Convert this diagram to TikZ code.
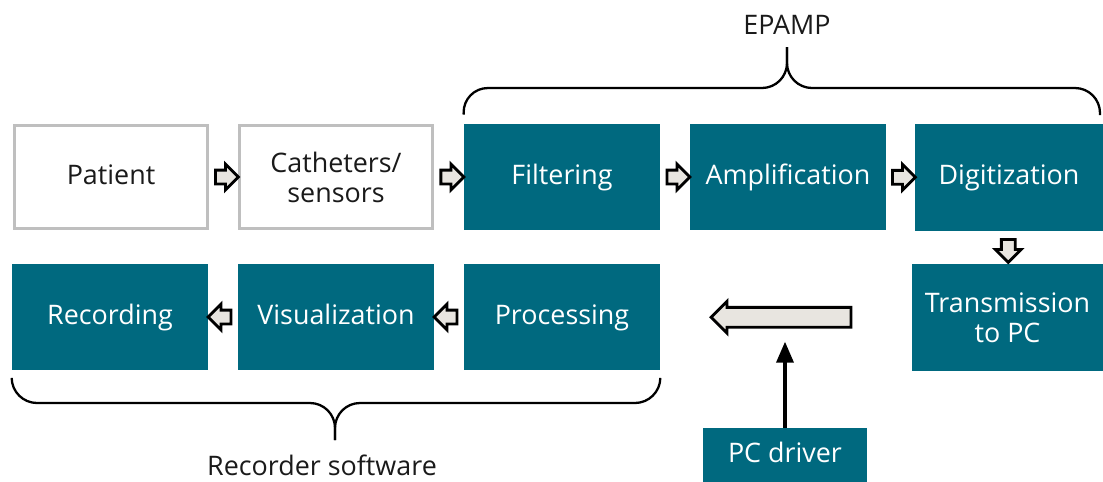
\documentclass[tikz,border=0pt]{standalone}
\usepackage{fontspec}
\setmainfont{Open Sans}
\usepackage{tikz}
\usetikzlibrary{positioning, arrows.meta, shapes.arrows, calc}

\definecolor{epteal}{HTML}{00697F}
\definecolor{boxgray}{HTML}{BFBFBF}
\definecolor{arrowfill}{HTML}{E8E5E0}
\definecolor{labeltext}{HTML}{1A1A1A}

\tikzset{
  stagebox/.style={rectangle, inner sep=0pt, minimum width=3.92cm, minimum height=2.12cm,
    align=center, font=\fontsize{15.3}{17}\selectfont},
  onelinetext/.style={text height=2.1ex, text depth=0.6ex},
  tealtwo/.style={stagebox, fill=epteal, text=white},
  tealbox/.style={tealtwo, onelinetext},
  graybox/.style={stagebox, draw=boxgray, line width=1.9pt, fill=white, text=labeltext,
    minimum width=3.86cm, minimum height=2.06cm},
  flowarrow/.style={single arrow, draw=black, fill=arrowfill, line width=1.6pt,
    inner sep=0.11cm, single arrow head extend=0.12cm, minimum height=0.46cm},
  bigflowarrow/.style={flowarrow, inner sep=0.17cm, single arrow head extend=0.12cm,
    minimum height=2.8cm},
  bracepath/.style={line width=1.3pt, rounded corners=0.5cm},
  bracelabel/.style={text=labeltext, font=\fontsize{15.3}{17}\selectfont}
}

\begin{document}
\begin{tikzpicture}[x=0.02cm, y=-0.02cm]
\useasboundingbox (0,0) rectangle (1103,481);

% --- top row ---
\node[graybox, onelinetext] (patient) at (111,177) {Patient};
\node[graybox] (catheters) at (336,177) {Catheters/\\sensors};
\node[tealbox] (filtering) at (562,177) {Filtering};
\node[tealbox] (amplification) at (788,177) {Amplification};
\node[tealbox, minimum width=3.76cm, minimum height=2.14cm] (digitization) at (1009,177.5) {Digitization};

% --- bottom row ---
\node[tealtwo, minimum width=3.82cm, minimum height=2.14cm] (transmission) at (1007.5,317.5) {Transmission\\to PC};
\node[tealbox] (processing) at (562,317) {Processing};
\node[tealbox] (visualization) at (336,317) {Visualization};
\node[tealbox] (recording) at (110,317) {Recording};
\node[tealbox, minimum width=3.28cm, minimum height=1.08cm] (driver) at (785,455) {PC driver};

% --- block arrows ---
\node[flowarrow] (arrpc) at ($(patient.east)!0.5!(catheters.west)$) {};
\node[flowarrow] (arrcf) at ($(catheters.east)!0.5!(filtering.west)$) {};
\node[flowarrow] (arrfa) at ($(filtering.east)!0.5!(amplification.west)$) {};
\node[flowarrow] (arrad) at ($(amplification.east)!0.5!(digitization.west)$) {};
\node[flowarrow, shape border rotate=270] (arrdt) at ($(digitization.south)!0.5!(transmission.north)$) {};
\node[bigflowarrow, shape border rotate=180] (arrtp) at ($(transmission.west)!0.5!(processing.east)$) {};
\node[flowarrow, shape border rotate=180] (arrpv) at ($(processing.west)!0.5!(visualization.east)$) {};
\node[flowarrow, shape border rotate=180] (arrvr) at ($(visualization.west)!0.5!(recording.east)$) {};

% --- driver feeds the transfer ---
\coordinate (drvend) at ($(driver.north)+(0,-86)$);
\draw[line width=2pt, -{Triangle[length=0.42cm,width=0.34cm]}] (driver.north) -- (drvend);

% --- braces ---
\coordinate (eptip) at (787,47);
\draw[bracepath] ($(filtering.north west)+(0,-9)$) -- (463,88) -- (787,88) -- (eptip);
\draw[bracepath] (1100,115) -- (1100,88) -- (787,88) -- (eptip);
\node[bracelabel] (epamp) at (787,25) {EPAMP};

\coordinate (rstip) at (335,440);
\draw[bracepath] ($(recording.south west)+(0,8)$) -- (12,403) -- (335,403) -- (rstip);
\draw[bracepath] ($(processing.south east)+(0,8)$) -- (660,403) -- (335,403) -- (rstip);
\node[bracelabel] (recsoft) at (322,465) {Recorder software};
\end{tikzpicture}
\end{document}
